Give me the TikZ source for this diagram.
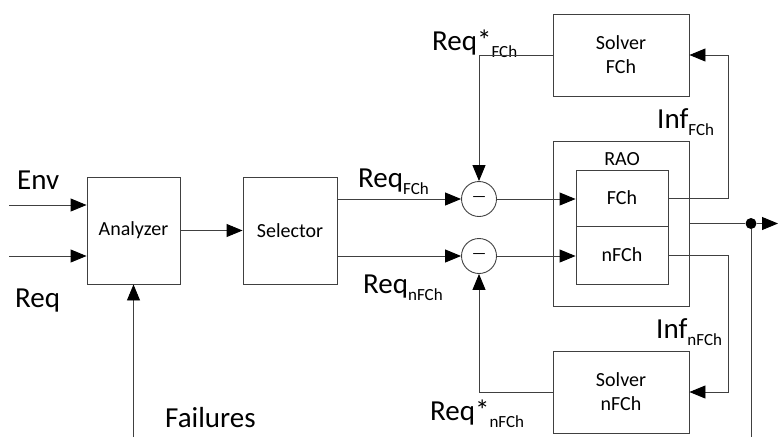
\documentclass[tikz,border=0pt]{standalone}
\usepackage{fontspec}
\setmainfont{Carlito}
\usetikzlibrary{arrows.meta, positioning}

% lowered subscript for the signal names
\newcommand{\lowsub}[1]{\raisebox{-0.25em}{\fontsize{17}{17}\selectfont #1}}

\begin{document}
\begin{tikzpicture}[
  x=1pt, y=-1pt,
  >={Triangle[length=16pt, width=13pt, color=black]},
  blk/.style={
    draw=black!75, line width=0.9pt, align=center, inner sep=0pt,
    font=\fontsize{20}{24}\selectfont
  },
  boxtxt/.style={inner sep=0pt, anchor=base, font=\fontsize{20}{24}\selectfont},
  sumnode/.style={
    draw=black!75, line width=0.9pt, circle, minimum size=35pt, inner sep=0pt,
    font=\fontsize{16}{16}\selectfont
  },
  sig/.style={font=\fontsize{29}{30}\selectfont, inner sep=0pt, anchor=base west},
  arr/.style={->, line width=0.9pt, draw=black!75},
  wire/.style={line width=0.9pt, draw=black!75}
]
  \useasboundingbox (0,0) rectangle (778,437);

  \node[blk, minimum width=93pt, minimum height=107pt] (analyzer) at (133.5,230.5) {Analyzer};
  \node[blk, minimum width=94pt, minimum height=107pt] (selector) at (290,230.5) {Selector};
  \node[sumnode] (sumF) at (479,199) {---};
  \node[sumnode] (sumN) at (479,256) {---};

  \node[blk, minimum width=136pt, minimum height=165pt] (rao) at (621,223.5) {};
  \node[boxtxt] (raolbl) at (622,165) {RAO};
  \node[blk, minimum width=92pt, minimum height=56pt] (fch) at (622,198) {FCh};
  \node[blk, minimum width=92pt, minimum height=58pt] (nfch) at (622,255) {nFCh};

  \node[blk, minimum width=136pt, minimum height=82pt] (solverF) at (621,55) {Solver\\FCh};
  \node[blk, minimum width=136pt, minimum height=82pt] (solverN) at (621,392) {Solver\\nFCh};
  \node[circle, fill=black, minimum size=11pt, inner sep=0pt] (tap) at (751,223.5) {};

  % free ends
  \coordinate (envin) at (9,205);
  \coordinate (reqin) at (9,256);
  \coordinate (failin) at (133.5,437);
  \coordinate (outend) at (778,223.5);
  \coordinate (tapend) at (751,437);

  \node[sig] (envlbl) at (17,189) {Env};
  \node[sig] (reqlbl) at (15,307) {Req};
  \node[sig] (faillbl) at (165,427) {Failures};
  \node[sig] (reqF) at (358,187) {Req\lowsub{FCh}};
  \node[sig] (reqN) at (363,293) {Req\lowsub{nFCh}};
  \node[sig] (reqsF) at (432,50) {Req*\lowsub{FCh}};
  \node[sig] (reqsN) at (430,420) {Req*\lowsub{nFCh}};
  \node[sig] (infF) at (657,128) {Inf\lowsub{FCh}};
  \node[sig] (infN) at (656,338) {Inf\lowsub{nFCh}};

  \draw[arr] (envin) -- (envin -| analyzer.west);
  \draw[arr] (reqin) -- (reqin -| analyzer.west);
  \draw[arr] (failin) -- (analyzer.south);
  \draw[arr] (analyzer) -- (selector);
  \draw[arr] (selector.east |- sumF) -- (sumF);
  \draw[arr] (selector.east |- sumN) -- (sumN);
  \draw[arr] (sumF.east) -- (sumF.east -| fch.west);
  \draw[arr] (sumN.east) -- (sumN.east -| nfch.west);

  \draw[arr] (solverF.west) -| (sumF.north);
  \draw[arr] (solverN.west) -| (sumN.south);
  \draw[arr] (fch.east) -- ++(60,0) |- (solverF.east);
  \draw[arr] (nfch.east) -- ++(60,0) |- (solverN.east);

  \draw[wire] (rao.east) -- (tap);
  \draw[arr] (tap) -- (outend);
  \draw[wire] (tap) -- (tapend);
\end{tikzpicture}
\end{document}
